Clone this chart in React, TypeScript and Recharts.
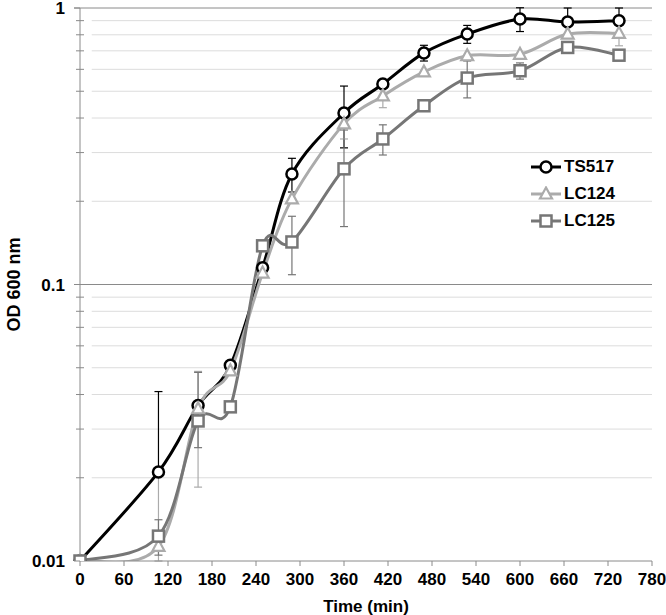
import React from 'react';
import { LineChart, Line, XAxis, YAxis, ReferenceLine, ErrorBar } from 'recharts';

// ---- data ----
const times = [0, 107, 161, 205, 249, 289, 360, 413, 469, 528, 600, 665, 735];
const ts517 = [0.01, 0.021, 0.0365, 0.051, 0.115, 0.251, 0.417, 0.531, 0.688, 0.805, 0.912, 0.89, 0.9];
const lc124 = [0.01, 0.0113, 0.0355, 0.0487, 0.11, 0.204, 0.381, 0.481, 0.587, 0.672, 0.68, 0.805, 0.81];
const lc125 = [0.01, 0.0123, 0.0321, 0.0361, 0.138, 0.1425, 0.262, 0.336, 0.443, 0.558, 0.593, 0.72, 0.675];
const ts517Err = [null, [0, 0.02], null, null, null, [0.035, 0.035], [0.105, 0.105], null, [0.045, 0.045], [0.06, 0.06], [0.09, 0.09], [0.11, 0.11], [0.1, 0.1]];
const lc124Err = [null, [0.0013, 0.009], [0.017, 0.013], null, null, null, [0.045, 0.045], [0.045, 0.045], null, null, null, null, [0.08, 0.08]];
const lc125Err = [null, [0.0018, 0.0018], [0.0064, 0.016], null, null, [0.034, 0.034], [0.1, 0.1], [0.042, 0.042], null, [0.085, 0.085], [0.04, 0.04], null, null];

const seriesNames = ['TS517', 'LC124', 'LC125'];
const xTicks = [0, 60, 120, 180, 240, 300, 360, 420, 480, 540, 600, 660, 720, 780];
const majorY = [0.01, 0.1, 1];
const majorYLabels = ['0.01', '0.1', '1'];
const minorY = [0.02, 0.03, 0.04, 0.05, 0.06, 0.07, 0.08, 0.09, 0.2, 0.3, 0.4, 0.5, 0.6, 0.7, 0.8, 0.9];

const data = times.map((t, i) => ({
  t,
  ts517: ts517[i],
  lc124: lc124[i],
  lc125: lc125[i],
  e1: ts517Err[i],
  e2: lc124Err[i],
  e3: lc125Err[i],
}));

// ---- style ----
const W = 666;
const H = 615;
const PL = 80;
const FONT = '"Liberation Sans", Arial, sans-serif';
const FS = 17;
const C1 = '#000000';
const C2 = '#ababab';
const C3 = '#767676';
const AXIS = '#8a8a8a';

// Excel-like smooth curve (Catmull-Rom Bezier)
function excelCurve(context: any) {
  let pts: number[][] = [];
  return {
    areaStart() {},
    areaEnd() {},
    lineStart() {
      pts = [];
    },
    lineEnd() {
      const n = pts.length;
      if (!n) return;
      context.moveTo(pts[0][0], pts[0][1]);
      for (let i = 0; i < n - 1; i++) {
        const p0 = pts[Math.max(i - 1, 0)];
        const p1 = pts[i];
        const p2 = pts[i + 1];
        const p3 = pts[Math.min(i + 2, n - 1)];
        context.bezierCurveTo(
          p1[0] + (p2[0] - p0[0]) / 6,
          p1[1] + (p2[1] - p0[1]) / 6,
          p2[0] - (p3[0] - p1[0]) / 6,
          p2[1] - (p3[1] - p1[1]) / 6,
          p2[0],
          p2[1]
        );
      }
    },
    point(x: number, y: number) {
      pts.push([+x, +y]);
    },
  };
}

function Marker({ kind, cx, cy, color }: any) {
  if (kind === 0) return <circle cx={cx} cy={cy} r={5.5} fill="#fff" stroke={color} strokeWidth={2.5} />;
  if (kind === 1)
    return (
      <polygon
        points={`${cx},${cy - 6.5} ${cx - 6},${cy + 4.5} ${cx + 6},${cy + 4.5}`}
        fill="#fff"
        stroke={color}
        strokeWidth={2.2}
        strokeLinejoin="miter"
      />
    );
  return <rect x={cx - 5.5} y={cy - 5.5} width={11} height={11} fill="#fff" stroke={color} strokeWidth={2.5} />;
}

const makeDot = (kind: number, color: string) => (props: any) => (
  <g key={`d${kind}-${props.index}`}>
    <Marker kind={kind} cx={props.cx} cy={props.cy} color={color} />
  </g>
);

const YTick = (props: any) => {
  const { y, payload } = props;
  const v = payload.value;
  const mi = majorY.findIndex((m) => Math.abs(m - v) < 1e-9);
  return (
    <g>
      <line x1={mi >= 0 ? PL - 6 : PL - 4} x2={mi >= 0 ? PL : PL + 4} y1={y} y2={y} stroke={AXIS} strokeWidth={1} />
      {mi >= 0 && (
        <text x={PL - 15} y={y} dy="0.36em" textAnchor="end" fontFamily={FONT} fontWeight="bold" fontSize={FS} fill="#000">
          {majorYLabels[mi]}
        </text>
      )}
    </g>
  );
};

const colors = [C1, C2, C3];

function LegendBox() {
  return (
    <div style={{ position: 'absolute', left: 530, top: 153, fontFamily: FONT }}>
      {seriesNames.map((n, i) => (
        <div key={n} style={{ display: 'flex', alignItems: 'center', height: 27 }}>
          <svg width={32} height={16} style={{ display: 'block' }}>
            <line x1={1} x2={31} y1={8} y2={8} stroke={colors[i]} strokeWidth={3} />
            <Marker kind={i} cx={16} cy={8} color={colors[i]} />
          </svg>
          <span style={{ fontWeight: 'bold', fontSize: FS, color: '#000', marginLeft: 2, lineHeight: '17px' }}>{n}</span>
        </div>
      ))}
    </div>
  );
}

export default function App() {
  return (
    <div style={{ position: 'absolute', left: 0, top: 0, width: W, height: H, background: '#fff' }}>
      <LineChart width={W} height={H} data={data} margin={{ top: 8, right: 14, bottom: 0, left: 0 }}>
        {minorY.map((v) => (
          <ReferenceLine
            key={`mg${v}`}
            segment={[{ x: 16, y: v }, { x: 780, y: v }]}
            stroke="#dcdcdc"
            strokeWidth={1}
            ifOverflow="visible"
          />
        ))}
        {[0.1, 1].map((v) => (
          <ReferenceLine
            key={`Mg${v}`}
            segment={[{ x: -8, y: v }, { x: 780, y: v }]}
            stroke={AXIS}
            strokeWidth={1}
            ifOverflow="visible"
          />
        ))}
        <XAxis
          dataKey="t"
          type="number"
          domain={[0, 780]}
          ticks={xTicks}
          interval={0}
          height={54}
          axisLine={{ stroke: AXIS }}
          tickLine={{ stroke: AXIS }}
          tickSize={5}
          tickMargin={7}
          tick={{ fill: '#000', fontFamily: FONT, fontWeight: 'bold', fontSize: FS }}
          label={{ value: 'Time (min)', position: 'insideBottom', offset: 3, fill: '#000', fontFamily: FONT, fontWeight: 'bold', fontSize: FS }}
        />
        <YAxis
          type="number"
          scale="log"
          domain={[0.01, 1]}
          allowDataOverflow
          ticks={[...majorY, ...minorY].sort((a, b) => a - b)}
          interval={0}
          width={80}
          axisLine={{ stroke: AXIS }}
          tickLine={false}
          tick={<YTick />}
          label={{
            value: 'OD 600 nm',
            angle: -90,
            position: 'insideLeft',
            offset: 14,
            style: { textAnchor: 'middle', fill: '#000', fontFamily: FONT, fontWeight: 'bold', fontSize: 18 },
          }}
        />
        <Line
          dataKey="ts517"
          type={excelCurve as any}
          stroke={C1}
          strokeWidth={3}
          dot={makeDot(0, C1)}
          activeDot={false}
          isAnimationActive={false}
        >
          <ErrorBar dataKey="e1" direction="y" stroke={C1} strokeWidth={1.2} width={4} />
        </Line>
        <Line
          dataKey="lc124"
          type={excelCurve as any}
          stroke={C2}
          strokeWidth={3}
          dot={makeDot(1, C2)}
          activeDot={false}
          isAnimationActive={false}
        >
          <ErrorBar dataKey="e2" direction="y" stroke={C2} strokeWidth={1.2} width={4} />
        </Line>
        <Line
          dataKey="lc125"
          type={excelCurve as any}
          stroke={C3}
          strokeWidth={3}
          dot={makeDot(2, C3)}
          activeDot={false}
          isAnimationActive={false}
        >
          <ErrorBar dataKey="e3" direction="y" stroke={C3} strokeWidth={1.2} width={4} />
        </Line>
      </LineChart>
      <LegendBox />
    </div>
  );
}
